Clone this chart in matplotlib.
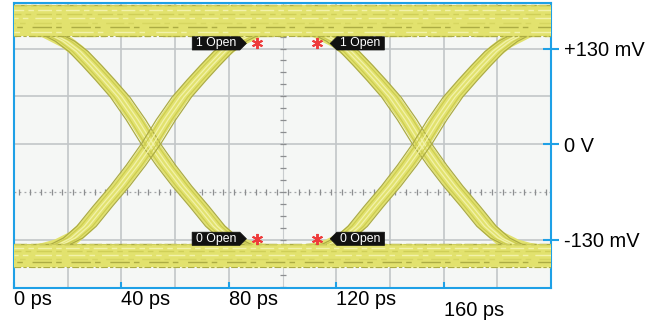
import functools

import matplotlib.pyplot as plt
import numpy as np
from matplotlib.path import Path

# one falling edge, relative to its crossing point
crossings_ps = [-50, 51, 152, 253]
edge_dt_ps = [-46, -40, -32, -27, -22, -17, -11.5, -5.6, 0, 5.6, 11.5, 18, 24, 29, 35, 40, 46]
edge_mv = [162, 155, 140, 126, 107, 87, 64, 33, 0, -29, -57, -85, -112, -128, -139, -144, -147]
edge_jitter_ps = [-3.6, -2.2, -0.8, 0.8, 2.2, 3.6]

top_band_mv = [189, 183, 177, 171, 165, 159, 153, 147]
bottom_band_mv = [-136, -141, -146, -151, -156, -161, -168]

x_ticks_ps = [0, 40, 80, 120, 160]
x_tick_labels = ["0 ps", "40 ps", "80 ps", "120 ps", "160 ps"]
y_ticks_mv = [130, 0, -130]
y_tick_labels = ["+130 mV", "0 V", "-130 mV"]

cursor_ps = [90.5, 112.8]
open_levels_mv = [137, -129]
open_labels = ["1 Open", "0 Open"]

BLUE = "#1ea0e6"
YELLOW = "#e2e26e"
DARK = "#acac44"
LIGHT = "#f2f2aa"


def tag_box(x0, y0, width, height, mutation_size, side=1):
    padx, pady = 0.3 * mutation_size, 0.05 * mutation_size
    x0, y0 = x0 - padx, y0 - pady
    x1, y1 = x0 + width + 2 * padx, y0 + height + 2 * pady
    ym, tip = (y0 + y1) / 2, (y1 - y0) / 2
    if side > 0:
        verts = [(x0, y0), (x1, y0), (x1 + tip, ym), (x1, y1), (x0, y1), (x0, y0)]
    else:
        verts = [(x0, y0), (x1, y0), (x1, y1), (x0, y1), (x0 - tip, ym), (x0, y0)]
    return Path(verts, closed=True)


plt.rcParams["font.family"] = ["Liberation Sans", "DejaVu Sans"]

fig = plt.figure(figsize=(6.63, 3.26), dpi=100)
ax = fig.add_axes((14 / 663, 38 / 326, 537 / 663, 285 / 326))
ax.set_facecolor("#f5f7f5")
ax.set_xlim(0, 200)
ax.set_ylim(-196, 192)

# scope graticule
for x in np.arange(20, 200, 20):
    if x != 100:
        ax.axvline(x, color="#c2c6c8", lw=1.2, zorder=1)
for y in [130, 65, 0, -130]:
    ax.axhline(y, color="#c2c6c8", lw=1.2, zorder=1)
ax.axvline(100, color="#c8ccce", lw=0.8, zorder=1)
ax.axhline(-65, color="#a4a6a8", lw=0.9, ls=(0, (1.5, 2.5)), zorder=1)
hx = np.arange(2, 200, 4)
ax.plot(hx, np.full(hx.size, -65), ls="none", marker="|", ms=4, mew=0.9,
        color="#8c8e90", zorder=1)
vy = np.arange(-195, 192, 16.25)
ax.plot(np.full(vy.size, 100), vy, ls="none", marker="_", ms=4, mew=0.9,
        color="#8c8e90", zorder=1)

# transitions
dt = np.array(edge_dt_ps)
mv = np.array(edge_mv)
for c in crossings_ps:
    for sign in (1, -1):
        xs = c + sign * dt
        ax.plot(xs, mv, color=YELLOW, lw=10, solid_capstyle="round", zorder=3)
        for j in edge_jitter_ps:
            col = DARK if abs(j) > 3 else ("#cdcd52" if abs(j) > 1 else LIGHT)
            ax.plot(xs + j, mv, color=col, lw=0.9, zorder=3.2)

# flat one / zero bands, drawn over the edge tails
for band in (top_band_mv, bottom_band_mv):
    ax.axhspan(min(band), max(band), color=YELLOW, lw=0, zorder=4)
    for i, level in enumerate(band):
        col = [DARK, LIGHT, "#cfcf58", LIGHT, "#d6d660"][i % 5]
        ax.axhline(level, color=col, lw=1.0,
                   ls=(i * 3, (9 + i, 3, 4, 2 + i)), zorder=4.2)
    ax.axhline(min(band), color=DARK, lw=0.8, ls=(0, (6, 2, 3, 2)), zorder=4.3)
    ax.axhline(max(band), color="#cccc5c", lw=0.8, ls=(2, (8, 3)), zorder=4.3)

# eye-opening cursors
for lvl, txt in zip(open_levels_mv, open_labels):
    ax.plot(cursor_ps, [lvl, lvl], ls="none", marker=(6, 2, 0), ms=8, mew=1.4,
            color="#ee3b3b", zorder=5)
    for cx, side, off in zip(cursor_ps, (1, -1), (-15, 17)):
        ax.annotate(txt, xy=(cx, lvl), xytext=(off, 0), textcoords="offset points",
                    ha="right" if side > 0 else "left", va="center",
                    fontsize=8.8, color="white", zorder=6,
                    bbox=dict(boxstyle=functools.partial(tag_box, side=side),
                              fc="#111111", ec="#111111", lw=0.5))

for s in ax.spines.values():
    s.set_color(BLUE)
    s.set_linewidth(1.5)

ax.set_xticks(x_ticks_ps, x_tick_labels)
ax.tick_params(axis="x", direction="in", length=4, width=1.5, color=BLUE,
               pad=1.5, labelsize=14.4)
for lbl in ax.get_xticklabels():
    lbl.set_horizontalalignment("left")
ax.get_xticklabels()[4].set_y(-0.04)

ax.yaxis.tick_right()
ax.set_yticks(y_ticks_mv, y_tick_labels)
ax.tick_params(axis="y", direction="inout", length=12, width=1.5, color=BLUE,
               pad=3.5, labelsize=14.4)
for lbl in ax.get_yticklabels():
    lbl.set_verticalalignment("center_baseline")

fig.savefig("out.png", dpi=100)
